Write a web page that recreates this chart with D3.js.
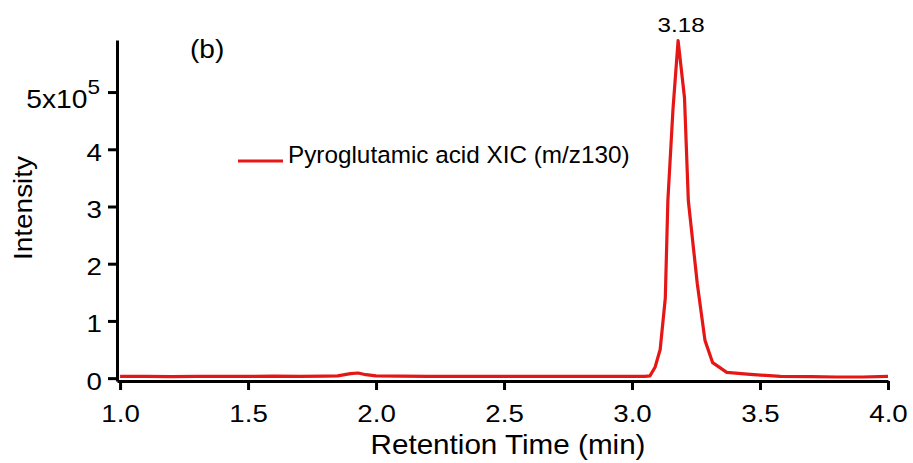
<!DOCTYPE html>
<meta charset="utf-8">

<!-- Load d3.js -->
<script src="https://d3js.org/d3.v7.min.js"></script>

<style>
  body { margin: 0; background: #fff; }
  text { font-family: "Liberation Sans", Arial, sans-serif; fill: #000; }
</style>

<div id="my_dataviz"></div>
<script>

// retention time (min) and XIC intensity (counts)
var times = [1.0, 1.1, 1.2, 1.3, 1.4, 1.5, 1.6, 1.7, 1.8, 1.85, 1.9, 1.93, 1.96, 2.0,
  2.1, 2.2, 2.3, 2.4, 2.5, 2.6, 2.7, 2.8, 2.9, 3.0, 3.05, 3.07, 3.09, 3.11, 3.13,
  3.14, 3.16, 3.18, 3.205, 3.22, 3.255, 3.285, 3.315, 3.37, 3.45, 3.58, 3.7, 3.8, 3.9, 4.0];
var intensity = [3000, 3000, 2500, 3000, 3000, 3000, 3500, 3000, 3500, 4000, 8000, 9000, 6000, 4000,
  3500, 3000, 3000, 3000, 3000, 3000, 3000, 3000, 3000, 3000, 3000, 4000, 19000, 50000, 140000,
  310000, 470000, 590000, 490000, 310000, 165000, 66000, 27000, 10000, 7000, 3000, 2500, 2000, 2000, 3000];

var xTicks = [1.0, 1.5, 2.0, 2.5, 3.0, 3.5, 4.0];
var yTicks = [0, 100000, 200000, 300000, 400000, 500000];

var seriesName = "Pyroglutamic acid XIC (m/z130)";
var peakTime = 3.18;
var panelLabel = "(b)";

var width = 913, height = 463;
var red = "#e51616";
var stretch = 1.13;   // the tick labels are a bit wider than plain Arial

var svg = d3.select("#my_dataviz")
  .append("svg")
    .attr("width", width)
    .attr("height", height);

var x = d3.scaleLinear()
  .domain([0.988, 4.0])
  .range([117, 888]);

var y = d3.scaleLinear()
  .domain([-5000, 591000])
  .range([381, 40]);

// X axis
var gx = svg.append("g")
  .attr("transform", "translate(0,381)")
  .call(d3.axisBottom(x)
    .tickValues(xTicks)
    .tickFormat(d3.format(".1f"))
    .tickSize(9)
    .tickSizeOuter(0)
    .tickPadding(15));

// Y axis
var gy = svg.append("g")
  .attr("transform", "translate(117,0)")
  .call(d3.axisLeft(y)
    .tickValues(yTicks)
    .tickFormat(function(d) { return d / 100000; })
    .tickSize(9)
    .tickSizeOuter(0)
    .tickPadding(6));

[gx, gy].forEach(function(g) {
  g.attr("font-size", 24.5).attr("font-family", "Liberation Sans, Arial, sans-serif");
  g.select(".domain").attr("stroke", "#000").attr("stroke-width", 3);
  g.selectAll(".tick line").attr("stroke", "#000").attr("stroke-width", 3);
  g.selectAll(".tick text").attr("fill", "#000").attr("transform", "scale(" + stretch + ",1)");
});
gy.selectAll(".tick text").attr("dy", "0.45em").attr("x", -15 / stretch);

// top tick written as 5x10^5
var topLabel = gy.selectAll(".tick text").filter(function(d) { return d === 500000; });
topLabel.text(null).attr("dy", "0.65em").attr("x", -17 / stretch);
topLabel.append("tspan").attr("font-size", 25).text("5x10");
topLabel.append("tspan").attr("font-size", 20).attr("dy", "-0.75em").text("5");

// trace
var data = times.map(function(t, i) { return [t, intensity[i]]; });
svg.append("path")
  .datum(data)
  .attr("fill", "none")
  .attr("stroke", red)
  .attr("stroke-width", 3.2)
  .attr("stroke-linejoin", "round")
  .attr("d", d3.line()
    .x(function(d) { return x(d[0]); })
    .y(function(d) { return y(d[1]); }));

// peak label
svg.append("text")
  .attr("transform", "translate(" + (x(peakTime) + 3) + ",32)scale(1.15,1)")
  .attr("text-anchor", "middle")
  .attr("font-size", 21)
  .text(peakTime.toFixed(2));

// legend
svg.append("line")
  .attr("x1", 238).attr("x2", 283)
  .attr("y1", 161).attr("y2", 161)
  .attr("stroke", red)
  .attr("stroke-width", 3);
svg.append("text")
  .attr("x", 288)
  .attr("y", 163)
  .attr("font-size", 24.3)
  .text(seriesName);

// panel label
svg.append("text")
  .attr("transform", "translate(190,58)scale(1.08,1)")
  .attr("font-size", 26)
  .text(panelLabel);

// axis titles
svg.append("text")
  .attr("transform", "translate(508,454)scale(1.04,1)")
  .attr("text-anchor", "middle")
  .attr("font-size", 28.5)
  .text("Retention Time (min)");

svg.append("text")
  .attr("transform", "translate(32,208)rotate(-90)scale(1.12,1)")
  .attr("text-anchor", "middle")
  .attr("font-size", 25)
  .text("Intensity");

</script>
